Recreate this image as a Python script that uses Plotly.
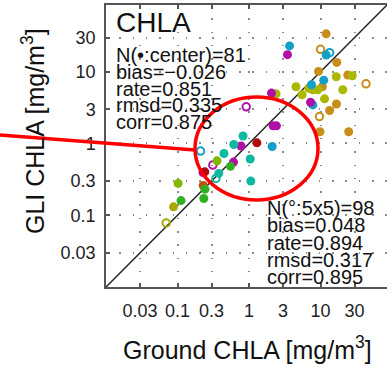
import plotly.graph_objects as go

# ---------------- data ----------------
TICK_VALS = [0.03, 0.1, 0.3, 1, 3, 10, 30]
TICK_TEXT = ["0.03", "0.1", "0.3", "1", "3", "10", "30"]
ONE_TO_ONE = [0.01, 100]

BROWN_X = [12.0, 9.38, 16.9, 24.1, 10.6, 16.7, 13.4, 9.84, 24.8]
BROWN_Y = [33.7, 10.1, 13.5, 9.0, 6.17, 3.55, 2.88, 1.46, 1.46]
BROWN_OPEN_X = [10.0, 43.3, 9.68]
BROWN_OPEN_Y = [20.5, 6.79, 2.37]

CYAN_X = [3.69, 12.0, 11.1, 7.48, 7.80, 2.11]
CYAN_Y = [22.9, 17.1, 7.63, 6.58, 3.45, 0.908]
CYAN_OPEN_X = [13.4, 0.210]
CYAN_OPEN_Y = [18.4, 0.785]

MAGENTA_X = [3.45, 2.06, 7.25, 2.17, 2.42, 0.773, 0.607, 0.227]
MAGENTA_Y = [17.3, 5.04, 3.75, 1.76, 1.76, 0.923, 0.551, 0.393]
MAGENTA_OPEN_X = [0.914, 0.312]
MAGENTA_OPEN_Y = [3.24, 0.500]

YGREEN_X = [4.54, 2.39, 5.51, 6.86, 7.80, 9.17, 16.6, 27.8, 20.5, 11.4]
YGREEN_Y = [6.17, 4.92, 4.77, 5.88, 5.60, 5.60, 8.51, 8.79, 5.60, 4.19]

TEAL_X = [0.824, 0.613, 0.447, 1.04, 0.378, 1.06]
TEAL_Y = [1.27, 0.968, 0.725, 0.607, 0.383, 0.299]
TEAL_OPEN_X = [0.345]
TEAL_OPEN_Y = [0.326]

DARKRED_X = [1.29, 0.241]
DARKRED_Y = [1.02, 0.403]

ORANGE_X = [0.229]
ORANGE_Y = [0.260]

GREEN_X = [0.551, 0.242, 0.233, 0.112]
GREEN_Y = [0.480, 0.231, 0.171, 0.160]

LIME_X = [0.357, 0.102]
LIME_Y = [0.573, 0.278]

OLIVE_X = [0.088]
OLIVE_Y = [0.131]
OLIVE_OPEN_X = [0.0695]
OLIVE_OPEN_Y = [0.078]

STATS_CENTER = ["N(•:center)=81", "bias=−0.026", "rate=0.851", "rmsd=0.335", "corr=0.875"]
STATS_BOX = ["N(°:5x5)=98", "bias=0.048", "rate=0.894", "rmsd=0.317", "corr=0.895"]

# ---------------- layout geometry ----------------
W, H = 387, 367
L, R, T, B = 106, 0, 5, 80
PW, PH = W - L - R, H - T - B


def px(xp):
    return (xp - L) / PW


def py(yp):
    return (T + PH - yp) / PH


FONT = "Liberation Sans, Arial, Helvetica, sans-serif"

fig = go.Figure()

fig.add_trace(go.Scatter(x=ONE_TO_ONE, y=ONE_TO_ONE, mode="lines",
                         line=dict(color="#222222", width=1.5), hoverinfo="skip"))


def filled(xs, ys, color):
    fig.add_trace(go.Scatter(x=xs, y=ys, mode="markers",
                             marker=dict(size=9, color=color, line=dict(width=0))))


def opened(xs, ys, color):
    fig.add_trace(go.Scatter(x=xs, y=ys, mode="markers",
                             marker=dict(size=7.5, symbol="circle-open", color=color,
                                         line=dict(width=2, color=color))))


filled(BROWN_X, BROWN_Y, "#c88e1c")
opened(BROWN_OPEN_X, BROWN_OPEN_Y, "#c88e1c")
filled(YGREEN_X, YGREEN_Y, "#aab800")
filled(CYAN_X, CYAN_Y, "#12a0c8")
opened(CYAN_OPEN_X, CYAN_OPEN_Y, "#12a0c8")
filled(MAGENTA_X, MAGENTA_Y, "#b010a8")
opened(MAGENTA_OPEN_X, MAGENTA_OPEN_Y, "#b010a8")
filled(TEAL_X, TEAL_Y, "#10b8a0")
opened(TEAL_OPEN_X, TEAL_OPEN_Y, "#10b8a0")
filled(DARKRED_X, DARKRED_Y, "#b00c0c")
filled(ORANGE_X, ORANGE_Y, "#c05010")
filled(GREEN_X, GREEN_Y, "#30b020")
filled(LIME_X, LIME_Y, "#80b800")
filled(OLIVE_X, OLIVE_Y, "#a8a800")
opened(OLIVE_OPEN_X, OLIVE_OPEN_Y, "#a8a800")

axis_common = dict(
    type="log", range=[-2, 1.93], tickvals=TICK_VALS, ticktext=TICK_TEXT,
    showgrid=True, gridcolor="#8a8a8a", gridwidth=1.5, griddash="1.5px,11.8px",
    showline=True, linecolor="#555555", linewidth=1.5,
    ticks="inside", ticklen=4, tickwidth=1.5, tickcolor="#555555",
    tickfont=dict(size=18, color="#222222", family=FONT),
    zeroline=False, automargin=False, tickangle=0,
)

fig.update_xaxes(**axis_common, mirror="ticks", ticklabelstandoff=7)
fig.update_yaxes(**axis_common, mirror=False, ticklabelstandoff=5)

ann = []
ann.append(dict(text="CHLA", x=px(114), y=py(22), xref="paper", yref="paper",
                xanchor="left", yanchor="middle", showarrow=False,
                font=dict(size=28, color="#111111", family=FONT)))
for i, s in enumerate(STATS_CENTER):
    ann.append(dict(text=s, x=px(114), y=py(55 + i * 16.8), xref="paper", yref="paper",
                    xanchor="left", yanchor="middle", showarrow=False,
                    font=dict(size=20, color="#111111", family=FONT)))
for i, s in enumerate(STATS_BOX):
    ann.append(dict(text=s, x=px(265), y=py(208 + i * 17.3), xref="paper", yref="paper",
                    xanchor="left", yanchor="middle", showarrow=False,
                    font=dict(size=20, color="#111111", family=FONT)))
ann.append(dict(text="Ground CHLA [mg/m<sup>3</sup>]", x=px(247.5), y=py(348),
                xref="paper", yref="paper", xanchor="center", yanchor="middle",
                showarrow=False, font=dict(size=25, color="#111111", family=FONT)))
ann.append(dict(text="GLI CHLA [mg/m<sup>3</sup>]", x=px(33), y=py(131), textangle=-90,
                xref="paper", yref="paper", xanchor="center", yanchor="middle",
                showarrow=False, font=dict(size=25, color="#111111", family=FONT)))

shapes = [
    dict(type="circle", xref="paper", yref="paper", x0=px(195), x1=px(318),
         y0=py(200), y1=py(97), line=dict(color="#ff0000", width=3.5), layer="above"),
    dict(type="line", xref="paper", yref="paper", x0=px(0), y0=py(135),
         x1=px(195), y1=py(150), line=dict(color="#ff0000", width=3.5), layer="above"),
]

fig.update_layout(
    width=W, height=H, margin=dict(l=L, r=R, t=T, b=B, pad=0),
    paper_bgcolor="white", plot_bgcolor="white", showlegend=False,
    annotations=ann, shapes=shapes, font=dict(family=FONT),
)

fig.write_html("out.html", config={"displayModeBar": False},
               post_script="document.body.style.margin='0';document.body.style.overflow='hidden';")
